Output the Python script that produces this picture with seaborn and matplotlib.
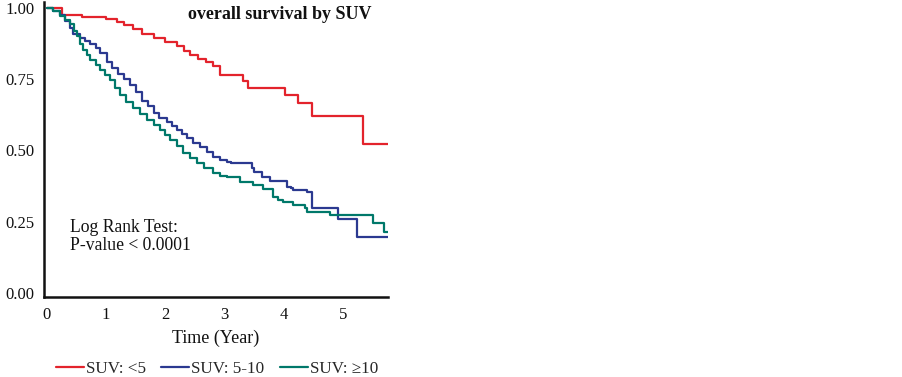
import matplotlib
matplotlib.use("Agg")
import matplotlib.pyplot as plt
import seaborn as sns
import pandas as pd

# ---------------- data ----------------
groups = ["SUV: <5", "SUV: 5-10", "SUV: \u226510"]
colors = ["#e3232c", "#2b3990", "#00786a"]
follow_up_end = 5.8

red_t = [0, 0.26, 0.6, 1.0, 1.18, 1.3, 1.45, 1.6, 1.8, 2.0, 2.2, 2.32, 2.42, 2.55,
         2.68, 2.8, 2.92, 3.31, 3.4, 4.02, 4.24, 4.48, 5.34]
red_s = [1.0, 0.975, 0.968, 0.96, 0.951, 0.94, 0.925, 0.91, 0.895, 0.88, 0.865, 0.85,
         0.835, 0.82, 0.81, 0.795, 0.765, 0.745, 0.72, 0.695, 0.665, 0.621, 0.523]

blue_t = [0, 0.1, 0.22, 0.3, 0.39, 0.44, 0.56, 0.65, 0.73, 0.82, 0.9, 1.01, 1.1, 1.2,
          1.3, 1.4, 1.5, 1.6, 1.7, 1.8, 1.9, 2.03, 2.12, 2.2, 2.28, 2.36, 2.47, 2.58,
          2.7, 2.8, 2.92, 3.04, 3.1, 3.46, 3.49, 3.63, 3.77, 4.05, 4.13, 4.16, 4.39,
          4.47, 4.92, 5.23]
blue_s = [1.0, 0.99, 0.975, 0.955, 0.93, 0.91, 0.895, 0.885, 0.875, 0.86, 0.842, 0.81,
          0.79, 0.77, 0.752, 0.73, 0.705, 0.675, 0.655, 0.632, 0.615, 0.60, 0.585, 0.572,
          0.558, 0.544, 0.528, 0.512, 0.495, 0.477, 0.468, 0.46, 0.455, 0.44, 0.426,
          0.408, 0.394, 0.373, 0.367, 0.362, 0.355, 0.297, 0.26, 0.198]

green_t = [0, 0.1, 0.22, 0.3, 0.39, 0.45, 0.5, 0.55, 0.61, 0.67, 0.73, 0.82, 0.9, 0.98,
           1.06, 1.15, 1.23, 1.34, 1.45, 1.57, 1.69, 1.8, 1.91, 2.0, 2.08, 2.19, 2.3,
           2.41, 2.53, 2.66, 2.8, 2.92, 3.04, 3.26, 3.48, 3.65, 3.82, 3.9, 3.99, 4.16,
           4.36, 4.39, 4.78, 5.5, 5.69]
green_s = [1.0, 0.99, 0.972, 0.958, 0.945, 0.92, 0.9, 0.875, 0.853, 0.835, 0.817, 0.8,
           0.782, 0.765, 0.747, 0.72, 0.695, 0.67, 0.65, 0.628, 0.607, 0.59, 0.572, 0.555,
           0.537, 0.515, 0.491, 0.473, 0.456, 0.44, 0.421, 0.412, 0.407, 0.39, 0.379,
           0.365, 0.338, 0.326, 0.32, 0.309, 0.298, 0.285, 0.274, 0.245, 0.215]

x_ticks = [0, 1, 2, 3, 4, 5]
y_ticks = [0.0, 0.25, 0.5, 0.75, 1.0]
y_tick_labels = ["0.00", "0.25", "0.50", "0.75", "1.00"]

# ---------------- build long table ----------------
rows = []
for g, ts, ss in zip(groups, [red_t, blue_t, green_t], [red_s, blue_s, green_s]):
    for t, s in zip(ts + [follow_up_end], ss + [ss[-1]]):
        rows.append({"time": t, "surv": s, "group": g})
df = pd.DataFrame(rows)

# ---------------- plot ----------------
sns.set_style("white")
serif = ["Liberation Serif", "DejaVu Serif"]
plt.rcParams["font.family"] = serif

fig = plt.figure(figsize=(9.03, 3.77), dpi=100)
ax = fig.add_axes([44 / 903, 1 - 297 / 377, 344 / 903, 295 / 377])

sns.lineplot(data=df, x="time", y="surv", hue="group", hue_order=groups,
             palette=dict(zip(groups, colors)), estimator=None, sort=False,
             drawstyle="steps-post", linewidth=1.6, legend=False, ax=ax)

ax.set_xlim(-0.05, 5.76)
ax.set_ylim(-0.014, 1.021)
ax.set_xticks(x_ticks)
ax.set_xticklabels([str(v) for v in x_ticks])
ax.set_yticks(y_ticks)
ax.set_yticklabels(y_tick_labels)
ax.set_xlabel("Time (Year)", fontsize=13, labelpad=5, color="#111111")
ax.set_ylabel("")

for side in ["top", "right"]:
    ax.spines[side].set_visible(False)
for side in ["left", "bottom"]:
    ax.spines[side].set_linewidth(1.8)
    ax.spines[side].set_color("#111111")

ax.tick_params(axis="x", direction="out", length=3, width=1.2, labelsize=12, pad=4, colors="#111111")
ax.tick_params(axis="y", length=0, labelsize=12, pad=7, colors="#111111")

ax.text(0.686, 0.958, "overall survival by SUV", transform=ax.transAxes,
        ha="center", va="center", fontsize=13, fontweight="bold", color="#111111")
ax.text(0.0756, 0.236, "Log Rank Test:", transform=ax.transAxes,
        ha="left", va="center", fontsize=12.7, color="#111111")
ax.text(0.0756, 0.175, "P-value < 0.0001", transform=ax.transAxes,
        ha="left", va="center", fontsize=12.7, color="#111111")

handles = ax.get_lines()[:3]
fig.legend(handles, groups, loc="center", bbox_to_anchor=(217 / 903, 1 - 369 / 377),
           ncol=3, frameon=False, fontsize=12.3, handlelength=1.65, handletextpad=0.12,
           columnspacing=0.9, borderaxespad=0, borderpad=0)

fig.savefig("out.png", dpi=100)
